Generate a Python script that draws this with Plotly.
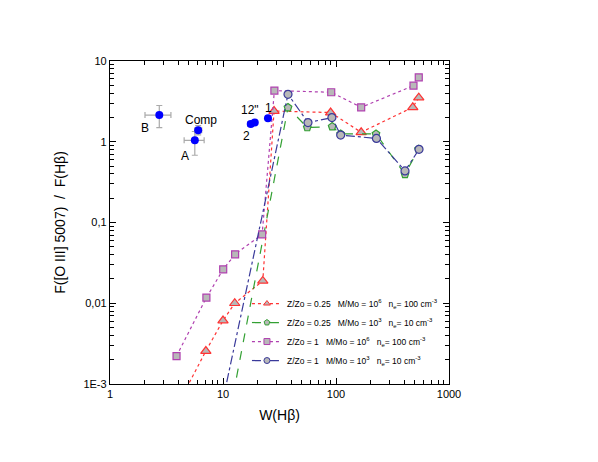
import math
import plotly.graph_objects as go

# ---- data ----
red_x = [4.5, 7.05, 10.0, 12.7, 22.5, 28.3, 89.6, 167, 478, 540]
red_y = [7.7e-4, 0.00256, 0.0061, 0.0100, 0.0189, 2.40, 2.30, 1.31, 2.67, 3.52]

green_x = [10.0, 37.6, 55.7, 92.5, 110, 226, 408, 537]
green_y = [1.6e-4, 2.65, 1.50, 1.54, 1.25, 1.25, 0.395, 0.81]

purple_x = [3.88, 7.13, 10.04, 12.8, 22.2, 28.5, 90.7, 167, 485, 540]
purple_y = [0.00222, 0.01175, 0.0263, 0.0404, 0.0714, 4.30, 4.10, 2.67, 4.95, 6.28]

blue_x = [10.0, 37.6, 56.5, 92, 110, 228, 408, 543]
blue_y = [6.4e-4, 3.87, 1.73, 1.99, 1.21, 1.10, 0.435, 0.805]

obs_names = ["B", "Comp", "A", "2", "12\"", "1"]
obs_x = [2.73, 6.03, 5.63, 17.6, 19.1, 25.0]
obs_y = [2.14, 1.39, 1.04, 1.66, 1.73, 1.95]
obs_xerr_plus = [0.73, 0.45, 1.18, 1.0, 0.5, 0.0]
obs_xerr_minus = [0.69, 0.40, 1.10, 1.0, 0.5, 0.0]
obs_yerr_plus = [0.67, 0.19, 0.30, 0.08, 0.08, 0.0]
obs_yerr_minus = [0.64, 0.17, 0.36, 0.08, 0.08, 0.0]

label_text = ["B", "Comp", "A", "2", "12\"", "1"]
label_x = [2.06, 6.37, 4.65, 16.3, 17.5, 25.5]
label_y = [1.50, 1.86, 0.667, 1.18, 2.47, 2.59]

legend_names = [
    "Z/Zo = 0.25\u00a0\u00a0\u00a0M/Mo = 10<sup>6</sup>\u00a0\u00a0\u00a0n<sub>e</sub>= 100 cm<sup>-3</sup>",
    "Z/Zo = 0.25\u00a0\u00a0\u00a0M/Mo = 10<sup>3</sup>\u00a0\u00a0\u00a0n<sub>e</sub>= 10 cm<sup>-3</sup>",
    "Z/Zo = 1\u00a0\u00a0\u00a0M/Mo = 10<sup>6</sup>\u00a0\u00a0\u00a0n<sub>e</sub>= 100 cm<sup>-3</sup>",
    "Z/Zo = 1\u00a0\u00a0\u00a0M/Mo = 10<sup>3</sup>\u00a0\u00a0\u00a0n<sub>e</sub>= 10 cm<sup>-3</sup>",
]

y_tickvals = [1e-3, 1e-2, 1e-1, 1, 10]
y_ticktext = ["1E-3", "0,01", "0,1", "1", "10"]
x_tickvals = [1, 10, 100, 1000]
x_ticktext = ["1", "10", "100", "1000"]

FONT = "Liberation Sans, Arial, sans-serif"
FILL = "#b8b8b8"

fig = go.Figure()

series = [
    (red_x, red_y, "#ff3333", "dot", "triangle-up", 9),
    (green_x, green_y, "#33a033", "dash", "pentagon", 8),
    (purple_x, purple_y, "#b040b0", "dot", "square", 7),
    (blue_x, blue_y, "#3a3a9a", "dashdot", "circle", 8),
]
for (xs, ys, col, dash, sym, sz), name in zip(series, legend_names):
    fig.add_trace(go.Scatter(
        x=xs, y=ys, mode="lines+markers", name=name, showlegend=False,
        line=dict(color=col, width=1.2, dash=dash),
        marker=dict(symbol=sym, size=sz, color=FILL, line=dict(color=col, width=1.2)),
    ))
# legend entries (smaller symbols, as in the original legend)
for (xs, ys, col, dash, sym, sz), name in zip(series, legend_names):
    fig.add_trace(go.Scatter(
        x=[None], y=[None], mode="lines+markers", name=name,
        line=dict(color=col, width=1.2, dash=dash),
        marker=dict(symbol=sym, size=6, color=FILL, line=dict(color=col, width=1)),
    ))

fig.add_trace(go.Scatter(
    x=obs_x, y=obs_y, mode="markers", showlegend=False,
    marker=dict(symbol="circle", size=8, color="#0000ff"),
    error_x=dict(type="data", symmetric=False, array=obs_xerr_plus, arrayminus=obs_xerr_minus,
                 color="#aaaaaa", thickness=1.2, width=3),
    error_y=dict(type="data", symmetric=False, array=obs_yerr_plus, arrayminus=obs_yerr_minus,
                 color="#aaaaaa", thickness=1.2, width=3),
))

for t, lx, ly in zip(label_text, label_x, label_y):
    fig.add_annotation(x=math.log10(lx), y=math.log10(ly), xref="x", yref="y", text=t, showarrow=False,
                       font=dict(family=FONT, size=12, color="black"),
                       xanchor="center", yanchor="middle")

axis_common = dict(
    type="log", showgrid=False, zeroline=False, showline=True, linecolor="black", linewidth=1.3,
    mirror="allticks", ticks="inside", ticklen=6, tickwidth=1, tickcolor="black",
    tickfont=dict(family=FONT, size=11, color="black"),
    minor=dict(ticks="inside", ticklen=3.5, tickwidth=1, tickcolor="black", dtick="D1", showgrid=False),
)

fig.update_xaxes(**axis_common, range=[0, 3], tickmode="array", tickvals=x_tickvals, ticktext=x_ticktext,
                 title=dict(text="W(H\u03b2)", font=dict(family=FONT, size=14, color="black"), standoff=10))
fig.update_yaxes(**axis_common, range=[-3, 1], tickmode="array", tickvals=y_tickvals, ticktext=y_ticktext,
                 title=dict(text="F([O III] 5007)\u00a0\u00a0/\u00a0\u00a0F(H\u03b2)",
                            font=dict(family=FONT, size=14, color="black"), standoff=14))

fig.update_layout(
    width=598, height=462,
    margin=dict(l=102, r=157, t=53, b=86, autoexpand=False),
    paper_bgcolor="white", plot_bgcolor="white",
    font=dict(family=FONT, color="black"),
    legend=dict(x=0.404, y=0.294, xanchor="left", yanchor="top",
                bgcolor="rgba(0,0,0,0)", borderwidth=0,
                font=dict(family=FONT, size=8.5, color="black"),
                itemwidth=30, tracegroupgap=0),
)

fig.write_html("out.html")
